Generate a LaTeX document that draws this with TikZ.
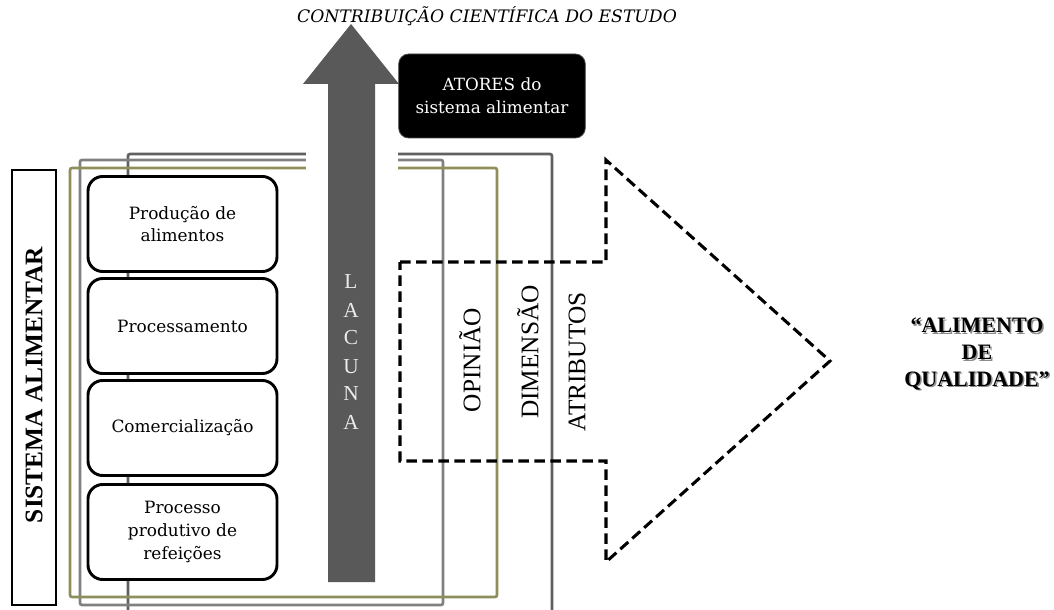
\documentclass[tikz,border=0pt]{standalone}
\usepackage{fontspec}
\setmainfont{Liberation Serif}
\newfontfamily\slabfont{DejaVu Serif}
\definecolor{olivelin}{RGB}{143,143,92}
\definecolor{graylin}{RGB}{128,128,128}
\definecolor{darklin}{RGB}{96,96,96}
\definecolor{arrowgray}{RGB}{89,89,89}
\begin{document}
\begin{tikzpicture}[x=0.75pt,y=-0.75pt,
  frameline/.style={line width=2pt, rounded corners=1.5pt},
  procbox/.style={draw=black, line width=2.2pt, rounded corners=11pt, fill=white,
    minimum width=141.75pt, minimum height=71.25pt, align=center, inner sep=2pt,
    font=\slabfont\fontsize{12.7}{17}\selectfont},
  vlabel/.style={rotate=90, inner sep=0pt, font=\fontsize{19}{20}\selectfont},
  lacuna/.style={text=white!92!black, inner sep=0pt, font=\fontsize{16}{17}\selectfont},
  dashedarrow/.style={draw=black, line width=2.3pt, dash pattern=on 8pt off 4pt, line join=miter},
  actorbox/.style={fill=black, draw=black!70, line width=0.6pt, rounded corners=7.5pt,
    minimum width=140pt, minimum height=63pt, align=center, text=white,
    font=\slabfont\fontsize{12.6}{17}\selectfont},
  goal/.style={align=center, inner sep=0pt, font=\bfseries\fontsize{16.5}{20}\selectfont}
]
\useasboundingbox (0,0) rectangle (1054,610);
\fill[white] (0,0) rectangle (1054,610);

% frame lines
\draw[frameline, darklin] (128,610) coordinate (dl1) -- (128,154) -- (552,154) -- (552,610) coordinate (dl2);
\draw[frameline, graylin] (80,160) rectangle (443,605);
\draw[frameline, olivelin] (70,168) rectangle (497,597);

% gap around the arrow
\fill[white] (306,146) rectangle (398,176);

% big arrow
\fill[arrowgray] (328,582) -- (328,84) -- (303,84) -- (351,24) -- (399,84) -- (375,84) -- (375,582) -- cycle;
\node[lacuna] (l1) at (351,282) {L};
\node[lacuna] (l2) at (351,310) {A};
\node[lacuna] (l3) at (351,338) {C};
\node[lacuna] (l4) at (351,367) {U};
\node[lacuna] (l5) at (351,394) {N};
\node[lacuna] (l6) at (351,422) {A};

% process boxes
\node[procbox] (b1) at (182.5,224) {Produção de\\alimentos};
\node[procbox] (b2) at (182.5,326) {Processamento};
\node[procbox] (b3) at (182.5,428) {Comercialização};
\node[procbox] (b4) at (182.5,532) {Processo\\produtivo de\\refeições};

% sistema alimentar
\node[draw=black, line width=0.9pt, minimum width=33pt, minimum height=326.25pt, inner sep=0pt] (sa) at (34,387.5) {};
\node[rotate=90, font=\bfseries\fontsize{19}{20}\selectfont] (satext) at (34,385) {SISTEMA ALIMENTAR};

% dashed arrow
\draw[dashedarrow] (400,262) -- (606,262) -- (606,160) -- (830,361) -- (606,562) -- (606,461) -- (400,461) -- cycle;

% vertical labels
\node[vlabel] (op) at (470,360) {OPINIÃO};
\node[vlabel] (di) at (528,352) {DIMENSÃO};
\node[vlabel] (at) at (577,362) {ATRIBUTOS};

% actors box
\node[actorbox] (ac) at (492,96) {ATORES do\\sistema alimentar};

% title
\node[font=\slabfont\itshape\fontsize{12.9}{14}\selectfont, inner sep=0pt] (title) at (487,16) {CONTRIBUIÇÃO CIENTÍFICA DO ESTUDO};

% goal text with shadow
\node[goal, text=black!45] (goalshadow) at (978.5,355.5) {“ALIMENTO\\DE\\QUALIDADE”};
\node[goal] (goal) at (977,354) {“ALIMENTO\\DE\\QUALIDADE”};
\end{tikzpicture}
\end{document}
